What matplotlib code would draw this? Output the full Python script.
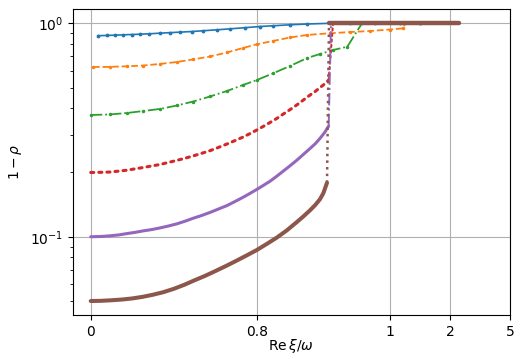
import numpy as np
import matplotlib
matplotlib.use('Agg')
import matplotlib.pyplot as plt

# ------------------------------------------------------------
# data (x in axis units, y = 1 - rho)
# ------------------------------------------------------------
blue_x = [0.037, 0.077, 0.117, 0.157, 0.198, 0.237, 0.282, 0.334, 0.382, 0.430, 0.487, 0.543,
          0.607, 0.671, 0.744, 0.805, 0.825, 0.850, 0.875, 0.910, 0.940, 0.977, 1.17, 1.50]
blue_y = [0.875, 0.877, 0.880, 0.883, 0.886, 0.889, 0.893, 0.899, 0.904, 0.909, 0.915, 0.923,
          0.932, 0.942, 0.954, 0.966, 0.974, 0.984, 0.992, 1.0, 1.0, 1.0, 1.0, 1.0]

orange_x = [0.011, 0.093, 0.175, 0.252, 0.334, 0.416, 0.493, 0.575, 0.657, 0.734, 0.800,
            0.824, 0.850, 0.876, 0.910, 0.940, 0.970, 1.000, 1.218, 1.252, 1.504]
orange_y = [0.624, 0.625, 0.629, 0.634, 0.645, 0.659, 0.677, 0.699, 0.730, 0.766, 0.797,
            0.826, 0.858, 0.882, 0.898, 0.910, 0.920, 0.935, 0.947, 1.0, 1.0]

green_x = [0.0, 0.093, 0.175, 0.252, 0.334, 0.416, 0.493, 0.575, 0.657, 0.734, 0.800,
           0.824, 0.850, 0.876, 0.895, 0.915, 0.936, 0.958, 1.0, 1.504]
green_y = [0.372, 0.374, 0.380, 0.388, 0.397, 0.412, 0.430, 0.454, 0.482, 0.514, 0.542,
           0.582, 0.631, 0.688, 0.718, 0.750, 0.777, 1.0, 1.0, 1.0]

red_x = [0.0, 0.05, 0.093, 0.135, 0.175, 0.213, 0.252, 0.293, 0.334, 0.375, 0.416, 0.455,
         0.493, 0.535, 0.575, 0.615, 0.657, 0.695, 0.734, 0.767, 0.800, 0.810, 0.820, 0.830,
         0.839, 0.850, 0.860, 0.870, 0.880, 0.888, 0.895, 0.902, 0.908]
red_y = [0.200, 0.2004, 0.201, 0.203, 0.205, 0.208, 0.211, 0.2145, 0.218, 0.223, 0.228, 0.2333,
         0.239, 0.246, 0.253, 0.262, 0.272, 0.282, 0.293, 0.304, 0.316, 0.329, 0.343, 0.358,
         0.374, 0.394, 0.414, 0.437, 0.461, 0.480, 0.500, 0.520, 0.542]
red_top_x = [0.9145, 2.0]

purple_x = [0.0, 0.05, 0.093, 0.135, 0.175, 0.213, 0.252, 0.293, 0.334, 0.375, 0.416, 0.455,
            0.493, 0.535, 0.575, 0.615, 0.657, 0.695, 0.734, 0.767, 0.800, 0.810, 0.820, 0.830,
            0.839, 0.850, 0.860, 0.870, 0.880, 0.888, 0.895, 0.902, 0.908]
purple_y = [0.100, 0.1003, 0.101, 0.102, 0.1035, 0.1048, 0.1065, 0.108, 0.110, 0.1123, 0.115,
            0.1183, 0.122, 0.1258, 0.130, 0.1348, 0.140, 0.1462, 0.153, 0.1595, 0.1665, 0.174,
            0.182, 0.192, 0.202, 0.215, 0.228, 0.243, 0.259, 0.273, 0.289, 0.308, 0.330]
purple_top_x = [0.9115, 2.4]

brown_x = [0.0, 0.05, 0.1, 0.15, 0.2, 0.25, 0.3, 0.35, 0.4, 0.45, 0.5, 0.55, 0.6, 0.65, 0.7,
           0.75, 0.8, 0.815, 0.83, 0.845, 0.86, 0.87, 0.88, 0.888, 0.895, 0.9, 0.9055]
brown_y = [0.050, 0.0501, 0.0504, 0.0508, 0.0514, 0.0523, 0.0535, 0.0550, 0.0570, 0.0595,
           0.0625, 0.0655, 0.069, 0.0728, 0.0770, 0.0816, 0.0866, 0.0925, 0.099, 0.107,
           0.117, 0.1245, 0.133, 0.141, 0.150, 0.160, 0.179]
brown_top_x = [0.9085, 2.47]

top_y = 1.0

xtick_vals = [0, 0.8, 1, 2, 5]
xtick_labels = ['0', '0.8', '1', '2', '5']

# ------------------------------------------------------------
# nonlinear x axis (piecewise, through the tick positions)
# ------------------------------------------------------------
X_NODES = [-1.0, 0.0, 0.8, 1.0, 2.0, 5.0, 10.0]
U_NODES = [-207.5, 0.0, 166.0, 299.3, 359.3, 419.3, 519.3]


def fwd(x):
    return np.interp(x, X_NODES, U_NODES)


def inv(u):
    return np.interp(u, U_NODES, X_NODES)


fig = plt.figure(figsize=(5.27, 3.59), dpi=100)
ax = fig.add_axes([0.138, 0.1226, 0.8297, 0.8515])
ax.set_xscale('function', functions=(fwd, inv))
ax.set_yscale('log')

# sparse series: line + small markers
ax.plot(blue_x, blue_y, color='C0', ls='-', lw=1.2, marker='.', ms=3.5)
ax.plot(orange_x, orange_y, color='C1', ls='--', lw=1.3, marker='.', ms=3)
ax.plot(green_x, green_y, color='C2', ls='-.', lw=1.3, marker='.', ms=3)

# dense series: curve as a band, jump drawn with the series line style
ax.plot(red_x, red_y, color='C3', ls=':', lw=2.2, dash_capstyle='round')
ax.plot([red_x[-1]] + red_top_x, [red_y[-1], top_y, top_y],
        color='C3', ls=':', lw=1.5, dash_capstyle='round')

ax.plot(purple_x, purple_y, color='C4', ls='-', lw=2.2, solid_capstyle='round')
ax.plot([purple_x[-1], purple_top_x[0]], [purple_y[-1], top_y], color='C4', ls='-.', lw=1.4)
ax.plot(purple_top_x, [top_y, top_y], color='C4', lw=2.2)

ax.plot(brown_x, brown_y, color='C5', ls='-', lw=2.9, solid_capstyle='round')
ax.plot([brown_x[-1], brown_top_x[0]], [brown_y[-1], top_y], color='C5', ls=':', lw=1.8)
ax.plot(brown_top_x, [top_y, top_y], color='C5', lw=3.2, solid_capstyle='round')

ax.set_xlim(-0.0867, 5)
ax.set_ylim(0.0430, 1.163)
ax.set_xticks(xtick_vals)
ax.set_xticklabels(xtick_labels)
ax.xaxis.set_minor_locator(matplotlib.ticker.NullLocator())
ax.tick_params(labelsize=10)
ax.grid(True, which='major')

ax.set_xlabel(r'$\mathrm{Re}\,\xi/\omega$', fontsize=10, labelpad=-1)
ax.set_ylabel(r'$1-\rho$', fontsize=10)

fig.savefig('out.png', dpi=100)
